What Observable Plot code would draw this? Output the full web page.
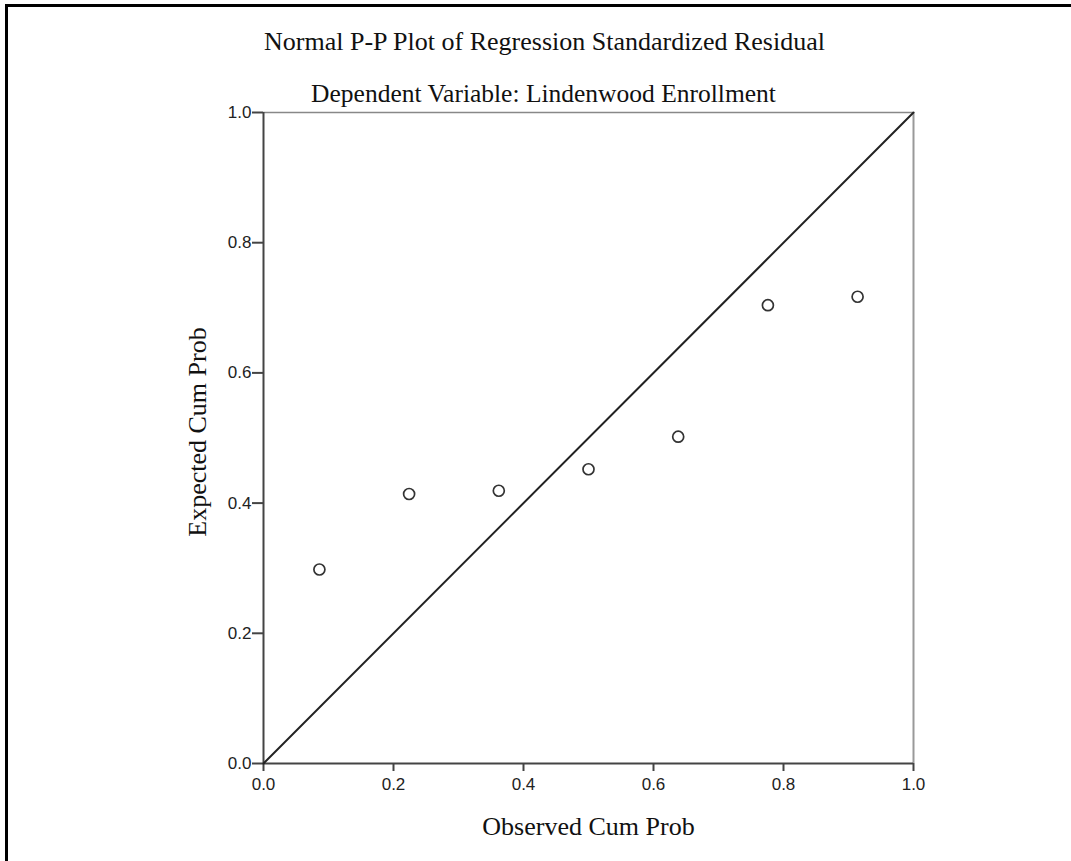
<!DOCTYPE html>
<html><head><meta charset="utf-8">
<script src="https://cdn.jsdelivr.net/npm/d3@7"></script>
<script src="https://cdn.jsdelivr.net/npm/@observablehq/plot@0.6"></script>
<style>
html,body{margin:0;padding:0;background:#fff;}
#wrap{position:relative;width:1071px;height:861px;overflow:hidden;}
#frame{position:absolute;left:5px;top:4px;right:-10px;bottom:-10px;border-left:3px solid #000;border-top:3px solid #000;pointer-events:none;}
</style></head>
<body><div id="wrap"><div id="chart"></div><div id="frame"></div></div>
<script>
const title = "Normal P-P Plot of Regression Standardized Residual";
const subtitle = "Dependent Variable: Lindenwood Enrollment";
const xLabel = "Observed Cum Prob";
const yLabel = "Expected Cum Prob";
const observed = [0.086, 0.224, 0.362, 0.500, 0.638, 0.776, 0.914];
const expected = [0.298, 0.414, 0.419, 0.452, 0.502, 0.704, 0.717];
const ticks = [0, 0.2, 0.4, 0.6, 0.8, 1.0];
const refLine = [0, 1];

const pts = observed.map((x, i) => ({x, y: expected[i]}));
const serif = "'Liberation Serif', 'DejaVu Serif', serif";
const sans = "'Liberation Sans', Arial, sans-serif";

const chart = Plot.plot({
  width: 1071, height: 861,
  marginLeft: 263, marginRight: 158, marginTop: 112, marginBottom: 98,
  style: {background: "#fff", fontFamily: sans, fontSize: "17px", color: "#222"},
  x: {domain: [0, 1], ticks, tickFormat: d3.format(".1f"), label: null},
  y: {domain: [0, 1], ticks, tickFormat: d3.format(".1f"), label: null},
  marks: [
    Plot.ruleY([1], {stroke: "#888", strokeWidth: 1.5}),
    Plot.ruleX([1], {stroke: "#999", strokeWidth: 2}),
    Plot.ruleX([0], {stroke: "#444", strokeWidth: 2}),
    Plot.ruleY([0], {stroke: "#444", strokeWidth: 2}),
    Plot.axisX({ticks, tickFormat: d3.format(".1f"), tickSize: 8, tickPadding: 6, stroke: "#444", strokeWidth: 2, fontSize: 17, fill: "#222", label: null}),
    Plot.axisY({ticks, tickFormat: d3.format(".1f"), tickSize: 11, tickPadding: 1, stroke: "#444", strokeWidth: 2, fontSize: 17, fill: "#222", label: null}),
    Plot.line(refLine.map(v => ({x: v, y: v})), {x: "x", y: "y", stroke: "#222", strokeWidth: 2}),
    Plot.dot(pts, {x: "x", y: "y", r: 5.5, stroke: "#333", strokeWidth: 1.7, fill: "#fff"}),
    Plot.text([title], {frameAnchor: "top", lineAnchor: "bottom", dx: -44, dy: -63, fontFamily: serif, fontSize: 26, fill: "#111"}),
    Plot.text([subtitle], {frameAnchor: "top", lineAnchor: "bottom", dx: -45, dy: -11, fontFamily: serif, fontSize: 25.5, fill: "#111"}),
    Plot.text([xLabel], {frameAnchor: "bottom", lineAnchor: "bottom", dy: 71, fontFamily: serif, fontSize: 26, fill: "#111"}),
    Plot.text([yLabel], {frameAnchor: "left", textAnchor: "middle", lineAnchor: "bottom", dx: -58, dy: -6, rotate: -90, fontFamily: serif, fontSize: 26, fill: "#111"})
  ]
});
d3.select(chart).selectAll('g[aria-label$="tick label"]').attr("font-size", 17).style("font-size", "17px");
d3.select(chart).selectAll('g[aria-label$="tick label"] text').style("font-size", "17px");
document.getElementById("chart").appendChild(chart);
</script></body></html>
